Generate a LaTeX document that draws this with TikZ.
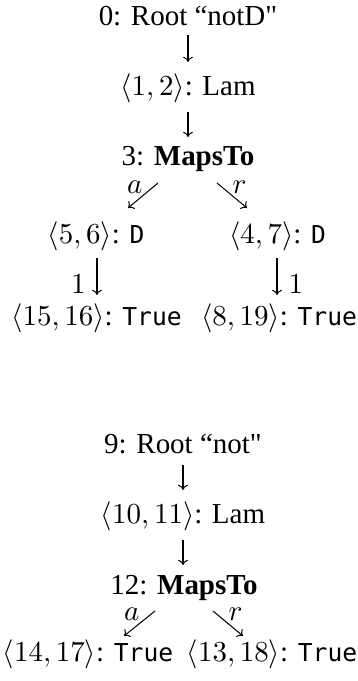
\documentclass[tikz,border=0pt]{standalone}
\usepackage[no-math]{fontspec}
\setmainfont{Liberation Serif}
\newfontfamily\qf{Liberation Serif}
\newfontfamily\codefont[Scale=0.85]{DejaVu Sans Mono}
\usetikzlibrary{arrows.meta,calc}
\newcommand{\cd}[1]{{\codefont #1}}
\newcommand{\sq}{{\qf"}}
\begin{document}
\begin{tikzpicture}[x=0.345pt,y=-0.345pt,
  tnode/.style={anchor=base, inner sep=0pt},
  conn/.style={-{Computer Modern Rightarrow[width=3.4pt,length=1.8pt]}, line width=0.35pt},
  elbl/.style={inner sep=0pt}]
\useasboundingbox (0,0) rectangle (358,681);
% tree 1
\node[tnode] (n0)  at (188,25)  {0: Root ``notD\sq};
\node[tnode] (n1)  at (188,95)  {$\langle 1,2\rangle$: Lam};
\node[tnode] (n3)  at (188,165) {3: \textbf{MapsTo}};
\node[tnode] (n5)  at (96,243)  {$\langle 5,6\rangle$: \cd{D}};
\node[tnode] (n4)  at (277.5,243) {$\langle 4,7\rangle$: \cd{D}};
\node[tnode] (n15) at (96.5,325) {$\langle 15,16\rangle$: \cd{True}};
\node[tnode] (n8)  at (279,325) {$\langle 8,19\rangle$: \cd{True}};
\draw[conn] ([shift={(0,10)}]n0.base) -- ([shift={(0,-33)}]n1.base);
\draw[conn] ([shift={(0,17)}]n1.base) -- ([shift={(0,-28)}]n3.base);
\draw[conn] ([shift={(-30,18)}]n3.base) -- ([shift={(32,-35)}]n5.base)
  node[elbl, at start, anchor=base east, shift={(-15,10)}] {$a$};
\draw[conn] ([shift={(29,18)}]n3.base) -- ([shift={(-30.5,-35)}]n4.base)
  node[elbl, at start, anchor=base west, shift={(15,10)}] {$r$};
\draw[conn] ([shift={(1,15)}]n5.base) -- ([shift={(0.5,-30)}]n15.base)
  node[elbl, at end, anchor=base east, shift={(-11,-2)}] {$1$};
\draw[conn] ([shift={(-0.5,15)}]n4.base) -- ([shift={(-2,-30)}]n8.base)
  node[elbl, at end, anchor=base west, shift={(11,-2)}] {$1$};
% tree 2
\node[tnode] (n9)  at (183,453) {9: Root ``not\sq};
\node[tnode] (n10) at (183,523) {$\langle 10,11\rangle$: Lam};
\node[tnode] (n12) at (184,594) {12: \textbf{MapsTo}};
\node[tnode] (n14) at (88,661)  {$\langle 14,17\rangle$: \cd{True}};
\node[tnode] (n13) at (272,661) {$\langle 13,18\rangle$: \cd{True}};
\draw[conn] ([shift={(0,12)}]n9.base) -- ([shift={(0,-33)}]n10.base);
\draw[conn] ([shift={(0,17)}]n10.base) -- ([shift={(-1,-29)}]n12.base);
\draw[conn] ([shift={(-29,17)}]n12.base) -- ([shift={(36,-25)}]n14.base)
  node[elbl, at start, anchor=base east, shift={(-15,9)}] {$a$};
\draw[conn] ([shift={(29,17)}]n12.base) -- ([shift={(-29,-25)}]n13.base)
  node[elbl, at start, anchor=base west, shift={(15,9)}] {$r$};
\end{tikzpicture}
\end{document}
